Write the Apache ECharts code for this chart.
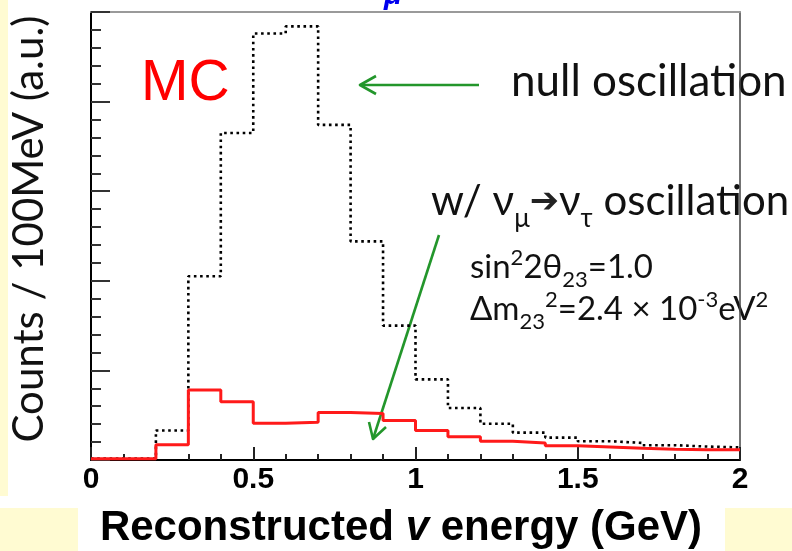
<!DOCTYPE html>
<html>
<head>
<meta charset="utf-8">
<script src="https://cdn.jsdelivr.net/npm/echarts@6/dist/echarts.min.js"></script>
<style>
html,body{margin:0;padding:0;background:#fff;}
#chart{width:792px;height:551px;}
</style>
</head>
<body>
<div id="chart"></div>
<script>
// Bin left edges (GeV), 100 MeV bins
const binStarts = [0.0, 0.1, 0.2, 0.3, 0.4, 0.5, 0.6, 0.7, 0.8, 0.9, 1.0, 1.1, 1.2, 1.3, 1.4, 1.5, 1.6, 1.7, 1.8, 1.9];
const binEnd = 2.0;
// Null oscillation (black dotted)
const nullOsc = [0.015, 0.015, 0.33, 2.05, 3.65, 4.76, 4.84, 3.74, 2.44, 1.50, 0.90, 0.58, 0.405, 0.305, 0.25, 0.21, 0.19, 0.165, 0.15, 0.14];
// With nu_mu -> nu_tau oscillation (red)
const tauOsc = [0.015, 0.015, 0.17, 0.78, 0.65, 0.41, 0.42, 0.53, 0.52, 0.44, 0.33, 0.26, 0.21, 0.19, 0.16, 0.145, 0.13, 0.12, 0.115, 0.115];
const xTicks = [0, 0.5, 1, 1.5, 2];

function histData(vals) {
  const d = binStarts.map((x, i) => [x, vals[i]]);
  d.push([binEnd, vals[vals.length - 1]]);
  return d;
}

const LATO = "Lato, 'Noto Sans', 'DejaVu Sans', sans-serif";
const ARIAL = "'Liberation Sans', Arial, sans-serif";
const GREEN = '#23962b';

const chart = echarts.init(document.getElementById('chart'), null, {renderer: 'canvas'});
chart.setOption({
  animation: false,
  backgroundColor: '#ffffff',
  grid: {left: 91, right: 52, top: 12, bottom: 91, outerBoundsMode: 'none'},
  xAxis: [{
    type: 'value', min: 0, max: 2, interval: 0.5,
    axisLine: {show: true, onZero: false, lineStyle: {color: '#000', width: 2}},
    axisTick: {show: true, inside: true, length: 13, lineStyle: {color: '#222', width: 2}},
    minorTick: {show: true, splitNumber: 5, length: 6, lineStyle: {color: '#222', width: 2}},
    axisLabel: {margin: 5, fontFamily: ARIAL, fontWeight: 'bold', fontSize: 30, color: '#000',
      formatter: v => String(v)},
    splitLine: {show: false}
  }, {
    type: 'value', position: 'top', min: 0, max: 2,
    axisLine: {show: true, onZero: false, lineStyle: {color: '#9a9a9a', width: 2}},
    axisTick: {show: false}, axisLabel: {show: false}, splitLine: {show: false}
  }],
  yAxis: [{
    type: 'value', min: 0, max: 5, interval: 1,
    axisLine: {show: true, onZero: false, lineStyle: {color: '#000', width: 2}},
    axisTick: {show: true, inside: true, length: 19, lineStyle: {color: '#333', width: 2}},
    minorTick: {show: true, splitNumber: 5, length: 10, lineStyle: {color: '#333', width: 2}},
    axisLabel: {show: false},
    splitLine: {show: false}
  }, {
    type: 'value', position: 'right', min: 0, max: 5,
    axisLine: {show: true, onZero: false, lineStyle: {color: '#444', width: 1.5}},
    axisTick: {show: false}, axisLabel: {show: false}, splitLine: {show: false}
  }],
  series: [{
    name: 'null oscillation', type: 'line', step: 'end', symbol: 'none',
    data: histData(nullOsc),
    lineStyle: {color: '#000', width: 2.6, type: [2.6, 3.6], cap: 'butt'},
    z: 2
  }, {
    name: 'w/ oscillation', type: 'line', step: 'end', symbol: 'none',
    data: histData(tauOsc),
    lineStyle: {color: '#ff1a1a', width: 3},
    z: 3
  }],
  graphic: [
    {type: 'rect', z: -10, shape: {x: 0, y: 0, width: 8, height: 496}, style: {fill: '#fffbd2'}},
    {type: 'rect', z: -10, shape: {x: 0, y: 508, width: 78, height: 43}, style: {fill: '#fffbd2'}},
    {type: 'rect', z: -10, shape: {x: 725, y: 508, width: 67, height: 43}, style: {fill: '#fffbd2'}},
    // partial blue glyph at top
    {type: 'text', x: 384, y: 11, style: {text: 'μ', font: "italic bold 30px 'Liberation Sans', sans-serif", fill: '#0000ee', align: 'left', verticalAlign: 'bottom'}},
    // y axis title
    {type: 'text', x: 29, y: 229, rotation: Math.PI / 2,
      style: {text: 'Counts / 100MeV (a.u.)', fontFamily: LATO, fontSize: 42, fill: '#111', align: 'center', verticalAlign: 'middle'}},
    // x axis title
    {type: 'text', x: 401, y: 528,
      style: {text: '{a|Reconstructed }{b|v}{a| energy (GeV)}', align: 'center', verticalAlign: 'middle',
        rich: {
          a: {fontFamily: ARIAL, fontWeight: 'bold', fontSize: 42, fill: '#000'},
          b: {fontFamily: ARIAL, fontWeight: 'bold', fontStyle: 'italic', fontSize: 42, fill: '#000'}
        }}},
    // MC
    {type: 'text', x: 141, y: 84, style: {text: 'MC', fontFamily: ARIAL, fontSize: 57, fill: '#ff0000', align: 'left', verticalAlign: 'middle'}},
    // arrow to null oscillation
    {type: 'polyline', shape: {points: [[479, 85], [361, 85]]}, style: {stroke: GREEN, lineWidth: 2.6, fill: null}},
    {type: 'polyline', shape: {points: [[376, 76], [360, 85], [376, 94]]}, style: {stroke: GREEN, lineWidth: 2.6, fill: null, lineJoin: 'round'}},
    {type: 'text', x: 511, y: 82, style: {text: 'null oscillation', fontFamily: LATO, fontSize: 44, fill: '#111', align: 'left', verticalAlign: 'middle'}},
    // w/ nu_mu -> nu_tau oscillation
    {type: 'text', x: 431, y: 180, style: {
      text: '{m|w/ ν}{s|μ}{r|➔}{m|ν}{s|τ}{m| oscillation}', align: 'left', verticalAlign: 'top',
      rich: {
        m: {fontFamily: LATO, fontSize: 42, lineHeight: 42, verticalAlign: 'top', fill: '#111'},
        s: {fontFamily: LATO, fontSize: 26, lineHeight: 26, verticalAlign: 'top', padding: [26, 0, 0, 0], fill: '#111'},
        r: {fontFamily: "'DejaVu Sans', sans-serif", fontSize: 35, lineHeight: 35, verticalAlign: 'top', padding: [5, 0, 0, 0], fill: '#222'}
      }}},
    // oscillation parameters
    {type: 'text', x: 470, y: 247, style: {
      text: '{m|sin}{p|2}{m|2θ}{s|23}{m|=1.0}', align: 'left', verticalAlign: 'top',
      rich: {
        m: {fontFamily: LATO, fontSize: 33, lineHeight: 33, verticalAlign: 'top', padding: [4, 0, 0, 0], fill: '#111'},
        p: {fontFamily: LATO, fontSize: 22, lineHeight: 22, verticalAlign: 'top', padding: [0, 0, 0, 0], fill: '#111'},
        s: {fontFamily: LATO, fontSize: 22, lineHeight: 22, verticalAlign: 'top', padding: [22, 0, 0, 0], fill: '#111'}
      }}},
    {type: 'text', x: 470, y: 289, style: {
      text: '{m|Δm}{s|23}{p|2}{m|=2.4 × 10}{p|-3}{m|eV}{p|2}', align: 'left', verticalAlign: 'top',
      rich: {
        m: {fontFamily: LATO, fontSize: 33, lineHeight: 33, verticalAlign: 'top', padding: [4, 0, 0, 0], fill: '#111'},
        p: {fontFamily: LATO, fontSize: 22, lineHeight: 22, verticalAlign: 'top', padding: [0, 0, 0, 0], fill: '#111'},
        s: {fontFamily: LATO, fontSize: 22, lineHeight: 22, verticalAlign: 'top', padding: [22, 0, 0, 0], fill: '#111'}
      }}},
    // arrow to oscillated spectrum
    {type: 'polyline', shape: {points: [[439, 235], [373, 439]]}, style: {stroke: GREEN, lineWidth: 2.6, fill: null}},
    {type: 'polyline', shape: {points: [[369, 422], [373, 439], [386, 427]]}, style: {stroke: GREEN, lineWidth: 2.6, fill: null, lineJoin: 'round'}}
  ]
});
</script>
</body>
</html>
